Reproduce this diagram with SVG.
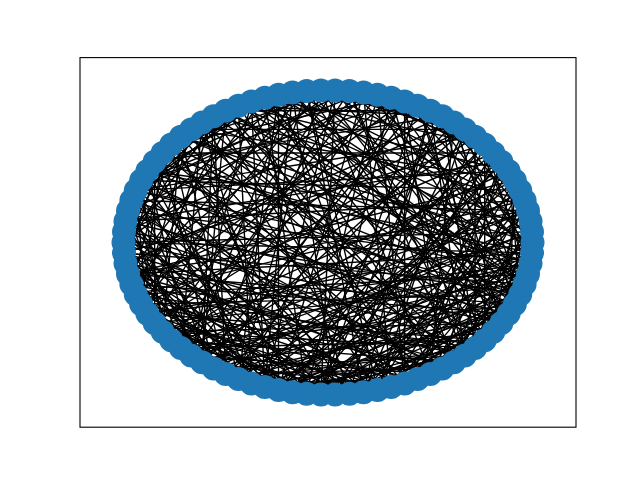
<svg xmlns="http://www.w3.org/2000/svg" width="640" height="480" viewBox="0 0 640 480">
<style>
.e path{stroke:#000;stroke-width:1.39;fill:none}
.n circle{fill:#1f77b4}
.ax{fill:none;stroke:#000;stroke-width:1.1}
</style>
<rect width="640" height="480" fill="#fff"/>
<g id="edges" class="e">
<path d="M532.5 242.4L404.6 101.4M532.5 242.4L147.4 313.8M532.5 242.4L264.8 387.1M532.5 242.4L180.9 136.7M532.5 242.4L238.4 105.7"/>
<path d="M532 231.8L123.5 242.4M532 231.8L391.2 387.1M532 231.8L251.4 101.4M532 231.8L202.1 362.3"/>
<path d="M530.5 221.2L213.6 368.5M530.5 221.2L147.4 171M530.5 221.2L493.4 331.8M530.5 221.2L442.4 116.3M530.5 221.2L278.5 94.8"/>
<path d="M528 210.8L306.6 393.7M528 210.8L131.4 200.5M528 210.8L292.5 92.6M528 210.8L162.6 331.8"/>
<path d="M524.6 200.5L135.8 294.4M524.6 200.5L528 274M524.6 200.5L213.6 116.3M524.6 200.5L363.5 392.2M524.6 200.5L125.5 221.2"/>
<path d="M520.2 190.4L141.2 180.5M520.2 190.4L238.4 379.1M520.2 190.4L320.9 90.4M520.2 190.4L404.6 383.4"/>
<path d="M514.8 180.5L453.9 362.3M514.8 180.5L128 274M514.8 180.5L191.2 129.4M514.8 180.5L171.3 340.2M514.8 180.5L278.5 390"/>
<path d="M508.6 171L238.4 105.7M508.6 171L278.5 390M508.6 171L520.2 294.4M508.6 171L135.8 190.4"/>
<path d="M501.4 161.8L125.5 221.2M501.4 161.8L191.2 355.4M501.4 161.8L363.5 92.6M501.4 161.8L417.6 379.1M501.4 161.8L306.6 393.7"/>
<path d="M493.4 153L162.6 153M493.4 153L335.1 394.4M493.4 153L141.2 304.3M493.4 153L349.4 91.1"/>
<path d="M484.7 144.6L251.4 383.4M484.7 144.6L264.8 97.7M484.7 144.6L484.7 340.2M484.7 144.6L124 253M484.7 144.6L377.5 390"/>
<path d="M475.1 136.7L171.3 340.2M475.1 136.7L135.8 190.4M475.1 136.7L530.5 263.6M475.1 136.7L320.9 90.4"/>
<path d="M464.8 129.4L377.5 390M464.8 129.4L191.2 129.4M464.8 129.4L131.4 284.3M464.8 129.4L202.1 362.3M464.8 129.4L520.2 294.4"/>
<path d="M453.9 122.5L225.7 374.1M453.9 122.5L306.6 91.1M453.9 122.5L514.8 304.3M453.9 122.5L125.5 263.6"/>
<path d="M442.4 116.3L125.5 263.6M442.4 116.3L475.1 348.1M442.4 116.3L292.5 392.2M442.4 116.3L154.6 161.8M442.4 116.3L238.4 105.7"/>
<path d="M430.3 110.7L154.6 323M430.3 110.7L225.7 110.7M430.3 110.7L349.4 393.7M430.3 110.7L464.8 355.4"/>
<path d="M417.6 105.7L124 231.8M417.6 105.7L501.4 323M417.6 105.7L202.1 362.3M417.6 105.7L278.5 94.8M417.6 105.7L320.9 394.4"/>
<path d="M404.6 101.4L442.4 368.5M404.6 101.4L141.2 180.5M404.6 101.4L238.4 379.1M404.6 101.4L135.8 294.4"/>
<path d="M391.2 97.7L147.4 313.8M391.2 97.7L524.6 284.3M391.2 97.7L171.3 144.6M391.2 97.7L320.9 394.4M391.2 97.7L306.6 91.1"/>
<path d="M377.5 94.8L128 210.8M377.5 94.8L404.6 383.4M377.5 94.8L191.2 355.4M377.5 94.8L514.8 304.3"/>
<path d="M363.5 92.6L278.5 390M363.5 92.6L213.6 116.3M363.5 92.6L532 253M363.5 92.6L128 274M363.5 92.6L141.2 180.5"/>
<path d="M349.4 91.1L180.9 348.1M349.4 91.1L464.8 355.4M349.4 91.1L135.8 190.4M349.4 91.1L532 253"/>
<path d="M335.1 90.4L123.5 242.4M335.1 90.4L320.9 394.4M335.1 90.4L508.6 313.8M335.1 90.4L162.6 331.8M335.1 90.4L171.3 144.6"/>
<path d="M320.9 90.4L238.4 379.1M320.9 90.4L147.4 171M320.9 90.4L430.3 374.1M320.9 90.4L141.2 304.3"/>
<path d="M306.6 91.1L363.5 392.2M306.6 91.1L131.4 284.3M306.6 91.1L524.6 284.3M306.6 91.1L213.6 368.5M306.6 91.1L484.7 340.2"/>
<path d="M292.5 92.6L124 231.8M292.5 92.6L493.4 331.8M292.5 92.6L264.8 387.1M292.5 92.6L191.2 355.4"/>
<path d="M278.5 94.8L154.6 323M278.5 94.8L391.2 387.1M278.5 94.8L154.6 161.8M278.5 94.8L530.5 263.6M278.5 94.8L278.5 390"/>
<path d="M264.8 97.7L306.6 393.7M264.8 97.7L128 274M264.8 97.7L475.1 348.1M264.8 97.7L135.8 190.4"/>
<path d="M251.4 101.4L191.2 355.4M251.4 101.4L514.8 304.3M251.4 101.4L131.4 200.5M251.4 101.4L349.4 393.7M251.4 101.4L264.8 387.1"/>
<path d="M238.4 105.7L135.8 294.4M238.4 105.7L417.6 379.1M238.4 105.7L251.4 383.4M238.4 105.7L524.6 284.3"/>
<path d="M225.7 110.7L453.9 362.3M225.7 110.7L123.5 242.4M225.7 110.7L202.1 362.3M225.7 110.7L528 274M225.7 110.7L131.4 200.5"/>
<path d="M213.6 116.3L225.7 374.1M213.6 116.3L508.6 313.8M213.6 116.3L147.4 313.8M213.6 116.3L391.2 387.1"/>
<path d="M202.1 122.5L377.5 390M202.1 122.5L124 253M202.1 122.5L532 253M202.1 122.5L180.9 348.1M202.1 122.5L278.5 390"/>
<path d="M191.2 129.4L292.5 392.2M191.2 129.4L484.7 340.2M191.2 129.4L141.2 304.3M191.2 129.4L453.9 362.3"/>
<path d="M180.9 136.7L404.6 383.4M180.9 136.7L162.6 331.8M180.9 136.7L524.6 284.3M180.9 136.7L238.4 379.1M180.9 136.7L123.5 242.4"/>
<path d="M171.3 144.6L335.1 394.4M171.3 144.6L501.4 323M171.3 144.6L131.4 284.3M171.3 144.6L225.7 374.1"/>
<path d="M162.6 153L430.3 374.1M162.6 153L213.6 368.5M162.6 153L520.2 294.4M162.6 153L125.5 263.6M162.6 153L141.2 304.3"/>
<path d="M154.6 161.8L251.4 383.4M154.6 161.8L464.8 355.4M154.6 161.8L154.6 323M154.6 161.8L530.5 263.6"/>
<path d="M147.4 171L363.5 392.2M147.4 171L514.8 304.3M147.4 171L191.2 355.4M147.4 171L532 253M147.4 171L264.8 387.1"/>
<path d="M141.2 180.5L306.6 393.7M141.2 180.5L484.7 340.2M141.2 180.5L162.6 331.8M141.2 180.5L125.5 263.6"/>
<path d="M135.8 190.4L404.6 383.4M135.8 190.4L213.6 368.5M135.8 190.4L528 274M135.8 190.4L278.5 390M135.8 190.4L147.4 313.8"/>
<path d="M131.4 200.5L349.4 393.7M131.4 200.5L501.4 323M131.4 200.5L180.9 348.1M131.4 200.5L442.4 368.5"/>
<path d="M128 210.8L442.4 368.5M128 210.8L238.4 379.1M128 210.8L530.5 263.6M128 210.8L320.9 394.4M128 210.8L171.3 340.2"/>
<path d="M125.5 221.2L377.5 390M125.5 221.2L202.1 362.3M125.5 221.2L508.6 313.8M125.5 221.2L292.5 392.2"/>
<path d="M124 231.8L475.1 348.1M124 231.8L264.8 387.1M124 231.8L520.2 294.4M124 231.8L335.1 394.4M124 231.8L154.6 323"/>
<path d="M123.5 242.4L417.6 379.1M123.5 242.4L225.7 374.1M123.5 242.4L532 253M123.5 242.4L501.4 323"/>
<path d="M124 253L391.2 387.1M124 253L524.6 284.3M124 253L264.8 387.1M124 253L464.8 355.4M124 253L213.6 368.5"/>
<path d="M125.5 263.6L493.4 331.8M125.5 263.6L320.9 394.4M125.5 263.6L430.3 374.1M125.5 263.6L278.5 390"/>
<path d="M128 274L453.9 362.3M128 274L251.4 383.4M128 274L514.8 304.3M128 274L532 253M128 274L528 210.8"/>
<path d="M131.4 284.3L363.5 392.2M131.4 284.3L508.6 313.8M131.4 284.3L292.5 392.2M131.4 284.3L464.8 355.4"/>
<path d="M135.8 294.4L475.1 348.1M135.8 294.4L306.6 393.7M135.8 294.4L528 274M135.8 294.4L404.6 383.4M135.8 294.4L238.4 379.1"/>
<path d="M141.2 304.3L442.4 368.5M141.2 304.3L520.2 294.4M141.2 304.3L349.4 393.7M141.2 304.3L264.8 387.1"/>
<path d="M147.4 313.8L484.7 340.2M147.4 313.8L377.5 390M147.4 313.8L530.5 263.6M147.4 313.8L306.6 393.7"/>
<path d="M154.6 323L417.6 379.1M154.6 323L524.6 284.3M154.6 323L320.9 394.4M154.6 323L464.8 129.4"/>
<path d="M162.6 331.8L501.4 323M162.6 331.8L391.2 387.1M162.6 331.8L475.1 348.1M162.6 331.8L508.6 171"/>
<path d="M171.3 340.2L453.9 362.3M171.3 340.2L530.5 263.6M171.3 340.2L349.4 393.7M171.3 340.2L363.5 92.6"/>
<path d="M180.9 348.1L514.8 304.3M180.9 348.1L404.6 383.4M180.9 348.1L484.7 340.2M180.9 348.1L528 210.8"/>
<path d="M191.2 355.4L430.3 374.1M191.2 355.4L528 274M191.2 355.4L306.6 393.7M191.2 355.4L532 231.8"/>
<path d="M202.1 362.3L493.4 331.8M202.1 362.3L532 253M202.1 362.3L391.2 387.1M202.1 362.3L213.6 116.3"/>
<path d="M213.6 368.5L464.8 355.4M213.6 368.5L524.6 284.3M213.6 368.5L363.5 392.2M213.6 368.5L404.6 101.4"/>
<path d="M225.7 374.1L508.6 313.8M225.7 374.1L442.4 368.5M225.7 374.1L530.5 263.6M225.7 374.1L493.4 153"/>
<path d="M238.4 379.1L475.1 348.1M238.4 379.1L520.2 294.4M238.4 379.1L377.5 390M238.4 379.1L278.5 94.8"/>
<path d="M251.4 383.4L528 274M251.4 383.4L453.9 362.3M251.4 383.4L417.6 379.1M251.4 383.4L520.2 190.4"/>
<path d="M264.8 387.1L501.4 323M264.8 387.1L532 253M264.8 387.1L404.6 383.4M264.8 387.1L335.1 90.4"/>
<path d="M278.5 390L514.8 304.3M278.5 390L464.8 355.4M278.5 390L524.6 284.3M278.5 390L484.7 144.6"/>
<path d="M292.5 392.2L484.7 340.2M292.5 392.2L530.5 263.6M292.5 392.2L430.3 374.1M292.5 392.2L501.4 161.8"/>
<path d="M306.6 393.7L520.2 294.4M306.6 393.7L475.1 348.1M306.6 393.7L508.6 313.8M306.6 393.7L377.5 94.8"/>
<path d="M320.9 394.4L493.4 331.8M320.9 394.4L532 253M320.9 394.4L442.4 368.5M320.9 394.4L442.4 116.3"/>
<path d="M335.1 394.4L292.5 92.6M335.1 394.4L528 274M335.1 394.4L464.8 129.4"/>
<path d="M349.4 393.7L514.8 304.3M349.4 393.7L171.3 144.6M349.4 393.7L528 210.8"/>
<path d="M363.5 392.2L501.4 323M363.5 392.2L475.1 136.7M363.5 392.2L430.3 110.7"/>
<path d="M377.5 390L524.6 284.3M377.5 390L306.6 91.1M377.5 390L508.6 171"/>
<path d="M391.2 387.1L520.2 294.4M391.2 387.1L514.8 180.5M391.2 387.1L363.5 92.6"/>
<path d="M404.6 383.4L508.6 313.8M404.6 383.4L404.6 101.4M404.6 383.4L532 231.8"/>
<path d="M417.6 379.1L524.6 284.3M417.6 379.1L225.7 110.7M417.6 379.1L493.4 153"/>
<path d="M430.3 374.1L520.2 294.4M430.3 374.1L453.9 122.5M430.3 374.1L524.6 200.5"/>
<path d="M442.4 368.5L532 253M442.4 368.5L501.4 161.8M442.4 368.5L264.8 97.7"/>
<path d="M453.9 362.3L528 274M453.9 362.3L349.4 91.1M453.9 362.3L530.5 221.2"/>
<path d="M464.8 355.4L530.5 263.6M464.8 355.4L202.1 122.5M464.8 355.4L391.2 97.7"/>
<path d="M475.1 348.1L524.6 284.3M475.1 348.1L524.6 200.5M475.1 348.1L475.1 136.7"/>
<path d="M484.7 340.2L532 253M484.7 340.2L377.5 94.8M484.7 340.2L532.5 242.4"/>
<path d="M493.4 331.8L520.2 190.4M493.4 331.8L417.6 105.7"/>
<path d="M501.4 323L442.4 116.3M501.4 323L320.9 90.4"/>
<path d="M508.6 313.8L292.5 92.6M508.6 313.8L514.8 180.5"/>
<path d="M514.8 304.3L532 231.8M514.8 304.3L453.9 122.5"/>
<path d="M520.2 294.4L135.8 190.4M520.2 294.4L225.7 110.7"/>
<path d="M524.6 284.3L264.8 97.7"/>
<path d="M528 274L484.7 144.6"/>
<path d="M530.5 263.6L180.9 136.7"/>
<path d="M532 253L430.3 110.7"/>
</g>
<g class="n">
<g id="n0"><circle cx="532.5" cy="242.4" r="12"/></g>
<g id="n1"><circle cx="532" cy="231.8" r="12"/></g>
<g id="n2"><circle cx="530.5" cy="221.2" r="12"/></g>
<g id="n3"><circle cx="528" cy="210.8" r="12"/></g>
<g id="n4"><circle cx="524.6" cy="200.5" r="12"/></g>
<g id="n5"><circle cx="520.2" cy="190.4" r="12"/></g>
<g id="n6"><circle cx="514.8" cy="180.5" r="12"/></g>
<g id="n7"><circle cx="508.6" cy="171" r="12"/></g>
<g id="n8"><circle cx="501.4" cy="161.8" r="12"/></g>
<g id="n9"><circle cx="493.4" cy="153" r="12"/></g>
<g id="n10"><circle cx="484.7" cy="144.6" r="12"/></g>
<g id="n11"><circle cx="475.1" cy="136.7" r="12"/></g>
<g id="n12"><circle cx="464.8" cy="129.4" r="12"/></g>
<g id="n13"><circle cx="453.9" cy="122.5" r="12"/></g>
<g id="n14"><circle cx="442.4" cy="116.3" r="12"/></g>
<g id="n15"><circle cx="430.3" cy="110.7" r="12"/></g>
<g id="n16"><circle cx="417.6" cy="105.7" r="12"/></g>
<g id="n17"><circle cx="404.6" cy="101.4" r="12"/></g>
<g id="n18"><circle cx="391.2" cy="97.7" r="12"/></g>
<g id="n19"><circle cx="377.5" cy="94.8" r="12"/></g>
<g id="n20"><circle cx="363.5" cy="92.6" r="12"/></g>
<g id="n21"><circle cx="349.4" cy="91.1" r="12"/></g>
<g id="n22"><circle cx="335.1" cy="90.4" r="12"/></g>
<g id="n23"><circle cx="320.9" cy="90.4" r="12"/></g>
<g id="n24"><circle cx="306.6" cy="91.1" r="12"/></g>
<g id="n25"><circle cx="292.5" cy="92.6" r="12"/></g>
<g id="n26"><circle cx="278.5" cy="94.8" r="12"/></g>
<g id="n27"><circle cx="264.8" cy="97.7" r="12"/></g>
<g id="n28"><circle cx="251.4" cy="101.4" r="12"/></g>
<g id="n29"><circle cx="238.4" cy="105.7" r="12"/></g>
<g id="n30"><circle cx="225.7" cy="110.7" r="12"/></g>
<g id="n31"><circle cx="213.6" cy="116.3" r="12"/></g>
<g id="n32"><circle cx="202.1" cy="122.5" r="12"/></g>
<g id="n33"><circle cx="191.2" cy="129.4" r="12"/></g>
<g id="n34"><circle cx="180.9" cy="136.7" r="12"/></g>
<g id="n35"><circle cx="171.3" cy="144.6" r="12"/></g>
<g id="n36"><circle cx="162.6" cy="153" r="12"/></g>
<g id="n37"><circle cx="154.6" cy="161.8" r="12"/></g>
<g id="n38"><circle cx="147.4" cy="171" r="12"/></g>
<g id="n39"><circle cx="141.2" cy="180.5" r="12"/></g>
<g id="n40"><circle cx="135.8" cy="190.4" r="12"/></g>
<g id="n41"><circle cx="131.4" cy="200.5" r="12"/></g>
<g id="n42"><circle cx="128" cy="210.8" r="12"/></g>
<g id="n43"><circle cx="125.5" cy="221.2" r="12"/></g>
<g id="n44"><circle cx="124" cy="231.8" r="12"/></g>
<g id="n45"><circle cx="123.5" cy="242.4" r="12"/></g>
<g id="n46"><circle cx="124" cy="253" r="12"/></g>
<g id="n47"><circle cx="125.5" cy="263.6" r="12"/></g>
<g id="n48"><circle cx="128" cy="274" r="12"/></g>
<g id="n49"><circle cx="131.4" cy="284.3" r="12"/></g>
<g id="n50"><circle cx="135.8" cy="294.4" r="12"/></g>
<g id="n51"><circle cx="141.2" cy="304.3" r="12"/></g>
<g id="n52"><circle cx="147.4" cy="313.8" r="12"/></g>
<g id="n53"><circle cx="154.6" cy="323" r="12"/></g>
<g id="n54"><circle cx="162.6" cy="331.8" r="12"/></g>
<g id="n55"><circle cx="171.3" cy="340.2" r="12"/></g>
<g id="n56"><circle cx="180.9" cy="348.1" r="12"/></g>
<g id="n57"><circle cx="191.2" cy="355.4" r="12"/></g>
<g id="n58"><circle cx="202.1" cy="362.3" r="12"/></g>
<g id="n59"><circle cx="213.6" cy="368.5" r="12"/></g>
<g id="n60"><circle cx="225.7" cy="374.1" r="12"/></g>
<g id="n61"><circle cx="238.4" cy="379.1" r="12"/></g>
<g id="n62"><circle cx="251.4" cy="383.4" r="12"/></g>
<g id="n63"><circle cx="264.8" cy="387.1" r="12"/></g>
<g id="n64"><circle cx="278.5" cy="390" r="12"/></g>
<g id="n65"><circle cx="292.5" cy="392.2" r="12"/></g>
<g id="n66"><circle cx="306.6" cy="393.7" r="12"/></g>
<g id="n67"><circle cx="320.9" cy="394.4" r="12"/></g>
<g id="n68"><circle cx="335.1" cy="394.4" r="12"/></g>
<g id="n69"><circle cx="349.4" cy="393.7" r="12"/></g>
<g id="n70"><circle cx="363.5" cy="392.2" r="12"/></g>
<g id="n71"><circle cx="377.5" cy="390" r="12"/></g>
<g id="n72"><circle cx="391.2" cy="387.1" r="12"/></g>
<g id="n73"><circle cx="404.6" cy="383.4" r="12"/></g>
<g id="n74"><circle cx="417.6" cy="379.1" r="12"/></g>
<g id="n75"><circle cx="430.3" cy="374.1" r="12"/></g>
<g id="n76"><circle cx="442.4" cy="368.5" r="12"/></g>
<g id="n77"><circle cx="453.9" cy="362.3" r="12"/></g>
<g id="n78"><circle cx="464.8" cy="355.4" r="12"/></g>
<g id="n79"><circle cx="475.1" cy="348.1" r="12"/></g>
<g id="n80"><circle cx="484.7" cy="340.2" r="12"/></g>
<g id="n81"><circle cx="493.4" cy="331.8" r="12"/></g>
<g id="n82"><circle cx="501.4" cy="323" r="12"/></g>
<g id="n83"><circle cx="508.6" cy="313.8" r="12"/></g>
<g id="n84"><circle cx="514.8" cy="304.3" r="12"/></g>
<g id="n85"><circle cx="520.2" cy="294.4" r="12"/></g>
<g id="n86"><circle cx="524.6" cy="284.3" r="12"/></g>
<g id="n87"><circle cx="528" cy="274" r="12"/></g>
<g id="n88"><circle cx="530.5" cy="263.6" r="12"/></g>
<g id="n89"><circle cx="532" cy="253" r="12"/></g>
</g>
<rect class="ax" x="80" y="57.6" width="496" height="369.6"/>
</svg>
